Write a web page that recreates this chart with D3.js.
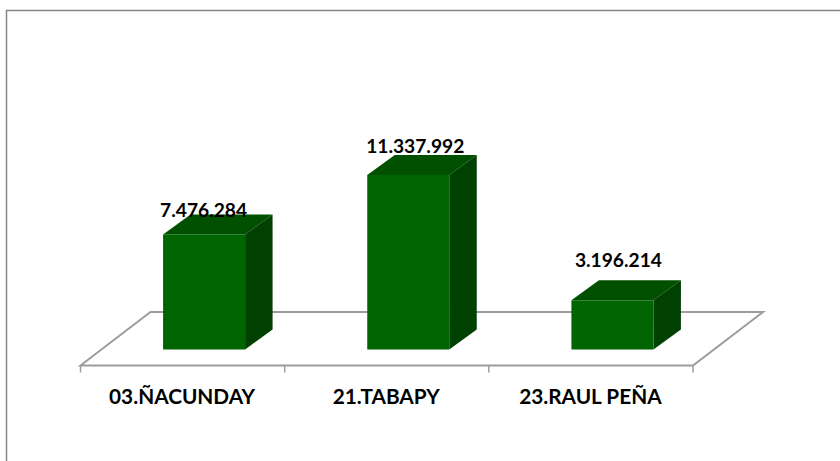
<!DOCTYPE html>
<html><head><meta charset="utf-8">
<script src="https://cdn.jsdelivr.net/npm/d3@7"></script>
<style>html,body{margin:0;padding:0;background:#fff}svg{display:block}</style>
</head><body><svg id="c" width="840" height="461"></svg>
<script>
const categories = ["03.ÑACUNDAY","21.TABAPY","23.RAUL PEÑA"];
const values = [7476284,11337992,3196214];
const valueLabels = ["7.476.284","11.337.992","3.196.214"];
const svg = d3.select("#c");
const font = "Lato, Carlito, sans-serif";
// frame
svg.append("path").attr("d","M6.5,461V10.5H840").attr("fill","none").attr("stroke","#868686").attr("stroke-width",1.5);
// scales
const x = d3.scaleBand().domain(categories).range([80.5,693]);
const y = d3.scaleLinear().domain([0,11337992]).range([349.5,175]);
const barW = 82, depthX = 27.5, depthY = 20, barShift = 21.5;
const floorFront = 365.5, floorBack = 312, floorDX = 70;
const labelDX = [-0.5,7,6], labelBaseGap = [-3,2,13];
const g = svg.append("g");
g.append("path")
 .attr("d",`M${x.range()[0]},${floorFront}L${x.range()[0]+floorDX},${floorBack}H${x.range()[1]+floorDX}L${x.range()[1]},${floorFront}Z`)
 .attr("fill","#fff").attr("stroke","#9c9c9c").attr("stroke-width",2);
const tickVals = [...categories.map(c=>x(c)),x.range()[1]];
g.selectAll("line.tk").data(tickVals).join("line").attr("class","tk")
 .attr("x1",d=>d).attr("x2",d=>d).attr("y1",floorFront).attr("y2",floorFront+7)
 .attr("stroke","#9c9c9c").attr("stroke-width",1.5);
categories.forEach((c,i)=>{
  const x0 = x(c)+(x.bandwidth()-barW)/2+barShift, x1=x0+barW, yt=y(values[i]), yb=y(0);
  const b = g.append("g");
  b.append("path").attr("d",`M${x0},${yt}L${x0+depthX},${yt-depthY}H${x1+depthX}L${x1},${yt}Z`).attr("fill","#005000");
  b.append("path").attr("d",`M${x1},${yt}L${x1+depthX},${yt-depthY}V${yb-depthY}L${x1},${yb}Z`).attr("fill","#004000");
  b.append("rect").attr("x",x0).attr("y",yt).attr("width",barW).attr("height",yb-yt).attr("fill","#006400");
});
categories.forEach((c,i)=>{
  const x0 = x(c)+(x.bandwidth()-barW)/2+barShift, yt=y(values[i]);
  g.append("text").attr("x",x0+barW/2+labelDX[i]).attr("y",yt-depthY-labelBaseGap[i])
   .attr("text-anchor","middle").attr("font-family",font).attr("font-weight",700).attr("font-size",19.2).attr("fill","#000").text(valueLabels[i]);
  g.append("text").attr("x",x(c)+x.bandwidth()/2-0.5).attr("y",404).attr("text-anchor","middle")
   .attr("font-family",font).attr("font-weight",700).attr("font-size",20.8).attr("fill","#000").text(c);
});
</script></body></html>
